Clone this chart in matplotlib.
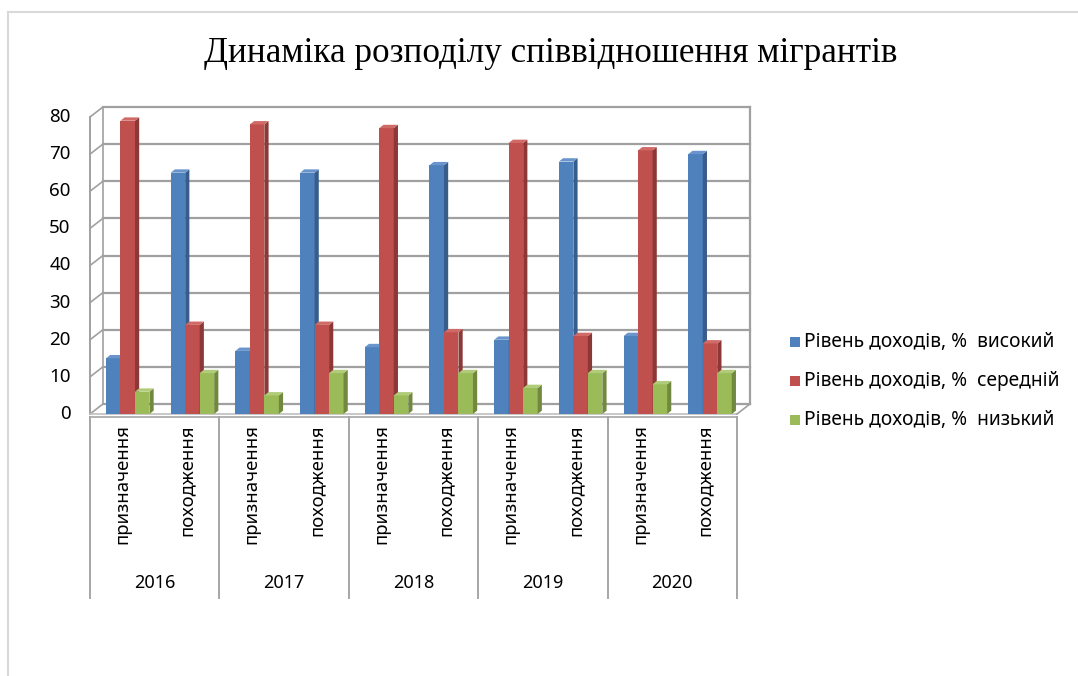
import matplotlib
matplotlib.use("Agg")
import matplotlib.pyplot as plt
from matplotlib.patches import Polygon, Rectangle
from matplotlib.lines import Line2D

# ---- data ----
years = ["2016", "2017", "2018", "2019", "2020"]
subcats = ["призначення", "походження"]
series_names = ["Рівень доходів, %  високий", "Рівень доходів, %  середній", "Рівень доходів, %  низький"]
high = [15, 65, 17, 65, 18, 67, 20, 68, 21, 70]
mid = [79, 24, 78, 24, 77, 22, 73, 21, 71, 19]
low = [6, 11, 5, 11, 5, 11, 7, 11, 8, 11]
yticks = [0, 10, 20, 30, 40, 50, 60, 70, 80]
title = "Динаміка розподілу співвідношення мігрантів"

front_colors = ["#4F81BD", "#C0504D", "#9BBB59"]
side_colors = ["#385D8A", "#8C3836", "#71893F"]
top_colors = ["#6A95CC", "#D06A67", "#B0CC78"]

W, H = 1078, 676
fig = plt.figure(figsize=(W / 100, H / 100), dpi=100)

# axes geometry (pixels): value 0 at y=414, value 80 at y=117
y0_px, y80_px = 414.0, 117.0
ppu = (y0_px - y80_px) / 80.0
x0_px, x1_px = 90, 737
ymin_v = -1.0
ybot_px = y0_px - ymin_v * ppu
ax = fig.add_axes([x0_px / W, 1 - ybot_px / H, (x1_px - x0_px) / W, (ybot_px - y80_px) / H])
ax.set_xlim(0, 10)
ax.set_ylim(ymin_v, 80)
ax.axis("off")


def py2v(py):
    return (y0_px - py) / ppu


grid_c = "#a0a0a0"
wdx, wdy = 0.2, 10 / ppu  # back wall offset
nslots = len(years) * len(subcats)

# back wall gridlines + left wall diagonals
for v in yticks:
    ax.add_line(Line2D([wdx, nslots + wdx], [v + wdy, v + wdy], color=grid_c, lw=1.6, clip_on=False, zorder=1))
    ax.add_line(Line2D([0, wdx], [v, v + wdy], color=grid_c, lw=1.2, clip_on=False, zorder=1))
# wall edges
ax.add_line(Line2D([wdx, wdx], [wdy, 80 + wdy], color=grid_c, lw=1.2, clip_on=False, zorder=1))
ax.add_line(Line2D([0, 0], [0, 80], color=grid_c, lw=1.4, clip_on=False, zorder=1))
ax.add_line(Line2D([nslots + wdx, nslots + wdx], [wdy, 80 + wdy], color=grid_c, lw=1.6, clip_on=False, zorder=1))
# floor
ax.add_line(Line2D([0, nslots], [0, 0], color="#bfbfbf", lw=1.2, clip_on=False, zorder=1))
ax.add_line(Line2D([nslots, nslots + wdx], [0, wdy], color=grid_c, lw=1.2, clip_on=False, zorder=1))

# bars with pseudo-3D faces
bw = 0.224
start = 0.247
bdx, bdy = 0.065, 0.9
all_series = [high, mid, low]
for i in range(nslots):
    for s, vals in enumerate(all_series):
        h = vals[i]
        xl = i + start + s * bw
        xr = xl + bw
        ax.add_patch(Rectangle((xl, 0), bw, h, facecolor=front_colors[s], edgecolor="none", zorder=3 + s))
        ax.add_patch(Polygon([(xr, 0), (xr + bdx, bdy), (xr + bdx, h + bdy), (xr, h)],
                             closed=True, facecolor=side_colors[s], edgecolor="none", zorder=3 + s))
        ax.add_patch(Polygon([(xl, h), (xl + bdx, h + bdy), (xr + bdx, h + bdy), (xr, h)],
                             closed=True, facecolor=top_colors[s], edgecolor="none", zorder=3 + s))

# y tick labels
for v in yticks:
    ax.text(-0.3, v, str(v), ha="right", va="center", fontsize=13.5, family=["Noto Sans", "DejaVu Sans"], clip_on=False)

# category axis
sep_c = "#a6a6a6"
ax.add_line(Line2D([0, nslots], [py2v(417), py2v(417)], color=sep_c, lw=1.2, clip_on=False))
for k in range(len(years) + 1):
    x = 2 * k
    ax.add_line(Line2D([x, x], [py2v(417), py2v(598)], color=sep_c, lw=1.4, clip_on=False))
for i in range(nslots):
    ax.text(i + 0.5, py2v(424), subcats[i % 2], rotation=90, ha="center", va="top",
            fontsize=13.3, family=["Noto Sans", "DejaVu Sans"], clip_on=False)
for k, yr in enumerate(years):
    ax.text(2 * k + 1, py2v(583), yr, ha="center", va="center", fontsize=13,
            family=["Noto Sans", "DejaVu Sans"], clip_on=False)

# legend (manual)
leg_y = [342, 381, 420]
for s, name in enumerate(series_names):
    fig.patches.append(Rectangle((790 / W, 1 - (leg_y[s] + 5) / H), 10 / W, 10 / H,
                                 transform=fig.transFigure, facecolor=front_colors[s], edgecolor="none"))
    fig.text(804 / W, 1 - leg_y[s] / H, name, ha="left", va="center", fontsize=13.8,
             family=["Noto Sans", "DejaVu Sans"])

# title
fig.text(551 / W, 1 - 53 / H, title, ha="center", va="center", fontsize=25.3,
         family=["Liberation Serif", "DejaVu Serif"])

# outer border
fig.lines.append(Line2D([8 / W, 1], [1 - 12 / H, 1 - 12 / H], transform=fig.transFigure, color="#d9d9d9", lw=1.5))
fig.lines.append(Line2D([8 / W, 8 / W], [1 - 12 / H, 0], transform=fig.transFigure, color="#d9d9d9", lw=1.5))

fig.savefig("out.png", dpi=100, facecolor="white")
